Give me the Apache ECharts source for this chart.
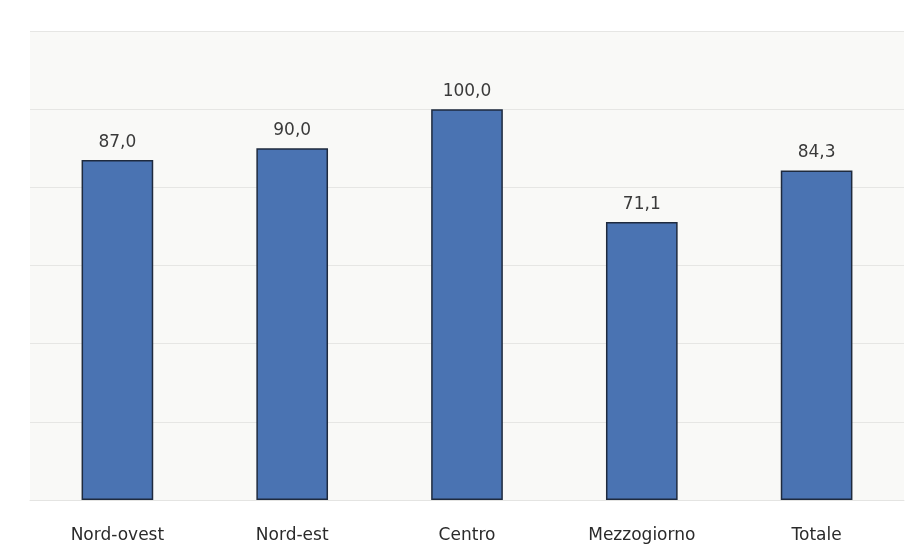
<!DOCTYPE html>
<html>
<head>
<meta charset="utf-8">
<script src="https://cdn.jsdelivr.net/npm/echarts@6/dist/echarts.min.js"></script>
<style>
  html, body { margin: 0; padding: 0; background: #ffffff; }
  #chart { width: 906px; height: 560px; }
</style>
</head>
<body>
<div id="chart"></div>
<script>
// Ripartizioni territoriali e valori dell'indice
const categories = ['Nord-ovest', 'Nord-est', 'Centro', 'Mezzogiorno', 'Totale'];
const values = [87.0, 90.0, 100.0, 71.1, 84.3];

const chart = echarts.init(document.getElementById('chart'));
chart.setOption({
  backgroundColor: '#ffffff',
  animation: false,
  grid: { left: 30, right: 2, top: 31, bottom: 60, show: true, backgroundColor: '#f9f9f7', borderWidth: 0 },
  xAxis: {
    type: 'category',
    data: categories,
    axisLine: { show: true, lineStyle: { color: '#e4e4e2', width: 1 } },
    axisTick: { show: false },
    axisLabel: {
      color: '#2a2a2a', fontSize: 17, fontFamily: 'DejaVu Sans', margin: 27
    }
  },
  yAxis: {
    type: 'value',
    min: 0, max: 120, interval: 20,
    axisLine: { show: false },
    axisTick: { show: false },
    axisLabel: { show: false },
    splitLine: { lineStyle: { color: '#e6e6e4', width: 1 } }
  },
  series: [{
    type: 'bar',
    data: values,
    barWidth: '41%',
    itemStyle: { color: '#4a73b2', borderColor: '#1e2a3e', borderWidth: 1.5 },
    label: {
      show: true, position: 'top', distance: 9,
      color: '#3a3a3a', fontSize: 17, fontFamily: 'DejaVu Sans',
      formatter: p => p.value.toFixed(1).replace('.', ',')
    }
  }]
});
</script>
</body>
</html>
